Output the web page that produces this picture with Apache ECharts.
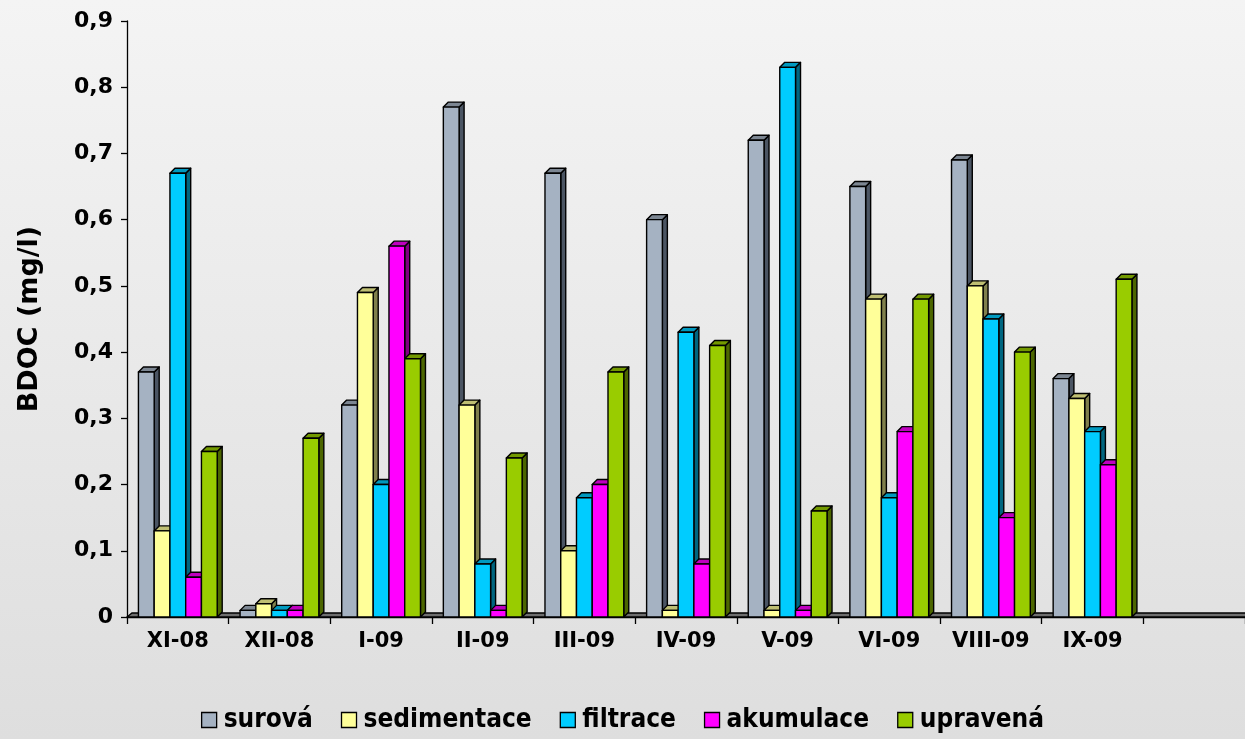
<!DOCTYPE html>
<html>
<head>
<meta charset="utf-8">
<script src="https://cdn.jsdelivr.net/npm/echarts@6/dist/echarts.min.js"></script>
<style>
  html, body { margin: 0; padding: 0; }
  #chart { width: 1245px; height: 739px; }
</style>
</head>
<body>
<div id="chart"></div>
<script>
// Months sampled (the last slot is an empty category at the right end of the axis)
const categories = ['XI-08', 'XII-08', 'I-09', 'II-09', 'III-09', 'IV-09', 'V-09', 'VI-09', 'VIII-09', 'IX-09', ''];

// BDOC (mg/l) for each treatment stage
const surova      = [0.37, 0.01, 0.32, 0.77, 0.67, 0.60, 0.72, 0.65, 0.69, 0.36];
const sedimentace = [0.13, 0.02, 0.49, 0.32, 0.10, 0.01, 0.01, 0.48, 0.50, 0.33];
const filtrace    = [0.67, 0.01, 0.20, 0.08, 0.18, 0.43, 0.83, 0.18, 0.45, 0.28];
const akumulace   = [0.06, 0.01, 0.56, 0.01, 0.20, 0.08, 0.01, 0.28, 0.15, 0.23];
const upravena    = [0.25, 0.27, 0.39, 0.24, 0.37, 0.41, 0.16, 0.48, 0.40, 0.51];

const seriesNames = ['surová', 'sedimentace', 'filtrace', 'akumulace', 'upravená'];
const seriesData = [surova, sedimentace, filtrace, akumulace, upravena];

// front / side / top face colours of each prism
const faceColors = ['#A5B2C2', '#FFFF99', '#00CCFF', '#FF00FF', '#99CC00'];
const sideColors = ['#4B5563', '#80804C', '#006680', '#800080', '#4C6600'];
const topColors  = ['#7C8692', '#BFBF73', '#0099BF', '#BF00BF', '#739900'];

const yTicks = { min: 0, max: 0.9, interval: 0.1 };

const DX = 5, DY = 5;        // depth of the 3D prisms
const BAR_FRAC = 0.155;      // bar width as a fraction of the category band
const FONT = 'DejaVu Sans';

function prism(k) {
  return function (params, api) {
    const idx = api.value(0);
    const val = api.value(1);
    const top = api.coord([idx, val]);
    const base = api.coord([idx, 0]);
    const band = api.size([1, 0])[0];
    const w = band * BAR_FRAC;
    const x0 = top[0] - 2.5 * w + k * w;
    const x1 = x0 + w;
    const yT = top[1];
    const yB = base[1];
    const line = { stroke: '#000', lineWidth: 1.4, lineJoin: 'round' };
    return {
      type: 'group',
      children: [
        { type: 'polygon', shape: { points: [[x1, yB], [x1 + DX, yB - DY], [x1 + DX, yT - DY], [x1, yT]] },
          style: Object.assign({ fill: sideColors[k] }, line) },
        { type: 'polygon', shape: { points: [[x0, yT], [x0 + DX, yT - DY], [x1 + DX, yT - DY], [x1, yT]] },
          style: Object.assign({ fill: topColors[k] }, line) },
        { type: 'rect', shape: { x: x0, y: yT, width: w, height: yB - yT },
          style: Object.assign({ fill: faceColors[k] }, line) }
      ]
    };
  };
}

const series = [{
  // floor strip along the category axis
  type: 'custom',
  name: 'floor',
  silent: true,
  z: 1,
  data: [[0, 0]],
  encode: { x: 0, y: 1 },
  renderItem: function (params, api) {
    const cs = params.coordSys;
    const yB = cs.y + cs.height;
    return {
      type: 'polygon',
      shape: { points: [[cs.x, yB], [cs.x + DX, yB - DY + 1], [cs.x + cs.width + 10, yB - DY + 1], [cs.x + cs.width + 10, yB]] },
      style: { fill: '#6E6E6E', stroke: '#000', lineWidth: 1.3 }
    };
  }
}];

seriesNames.forEach(function (name, k) {
  series.push({
    type: 'custom',
    name: name,
    z: 2,
    itemStyle: { color: faceColors[k] },
    data: seriesData[k].map(function (v, i) { return [i, v]; }),
    encode: { x: 0, y: 1 },
    renderItem: prism(k)
  });
});

const chart = echarts.init(document.getElementById('chart'), null, { renderer: 'canvas' });
chart.setOption({
  animation: false,
  backgroundColor: {
    type: 'linear', x: 0, y: 0, x2: 0, y2: 1,
    colorStops: [{ offset: 0, color: '#F4F4F4' }, { offset: 1, color: '#DEDEDE' }]
  },
  grid: { left: 127, right: -4, top: 21, bottom: 122, containLabel: false },
  legend: {
    data: seriesNames.map(function (n, k) {
      return { name: n, icon: 'rect', itemStyle: { color: faceColors[k], borderColor: '#000', borderWidth: 1.3 } };
    }),
    left: 'center',
    top: 702,
    itemWidth: 15,
    itemHeight: 15,
    itemGap: 28,
    textStyle: { fontFamily: 'DejaVu Sans Condensed', fontWeight: 'bold', fontSize: 26, color: '#000', padding: [0, 0, 0, 2] }
  },
  xAxis: {
    type: 'category',
    data: categories,
    boundaryGap: true,
    axisLine: { lineStyle: { color: '#000', width: 1.3 } },
    axisTick: { show: true, length: 7, lineStyle: { color: '#000', width: 1.3 } },
    axisLabel: { fontFamily: FONT, fontWeight: 'bold', fontSize: 21, color: '#000', margin: 14, interval: 0 },
    splitLine: { show: false }
  },
  yAxis: {
    type: 'value',
    min: yTicks.min,
    max: yTicks.max,
    interval: yTicks.interval,
    name: 'BDOC (mg/l)',
    nameLocation: 'middle',
    nameRotate: 90,
    nameGap: 84,
    nameTextStyle: { fontFamily: FONT, fontWeight: 'bold', fontSize: 27, color: '#000' },
    axisLine: { show: true, lineStyle: { color: '#000', width: 1.3 } },
    axisTick: { show: true, length: 6, lineStyle: { color: '#000', width: 1.3 } },
    axisLabel: {
      fontFamily: FONT, fontWeight: 'bold', fontSize: 22, color: '#000', margin: 14,
      formatter: function (v) { return v === 0 ? '0' : v.toFixed(1).replace('.', ','); }
    },
    splitLine: { show: false }
  },
  series: series
});
</script>
</body>
</html>
